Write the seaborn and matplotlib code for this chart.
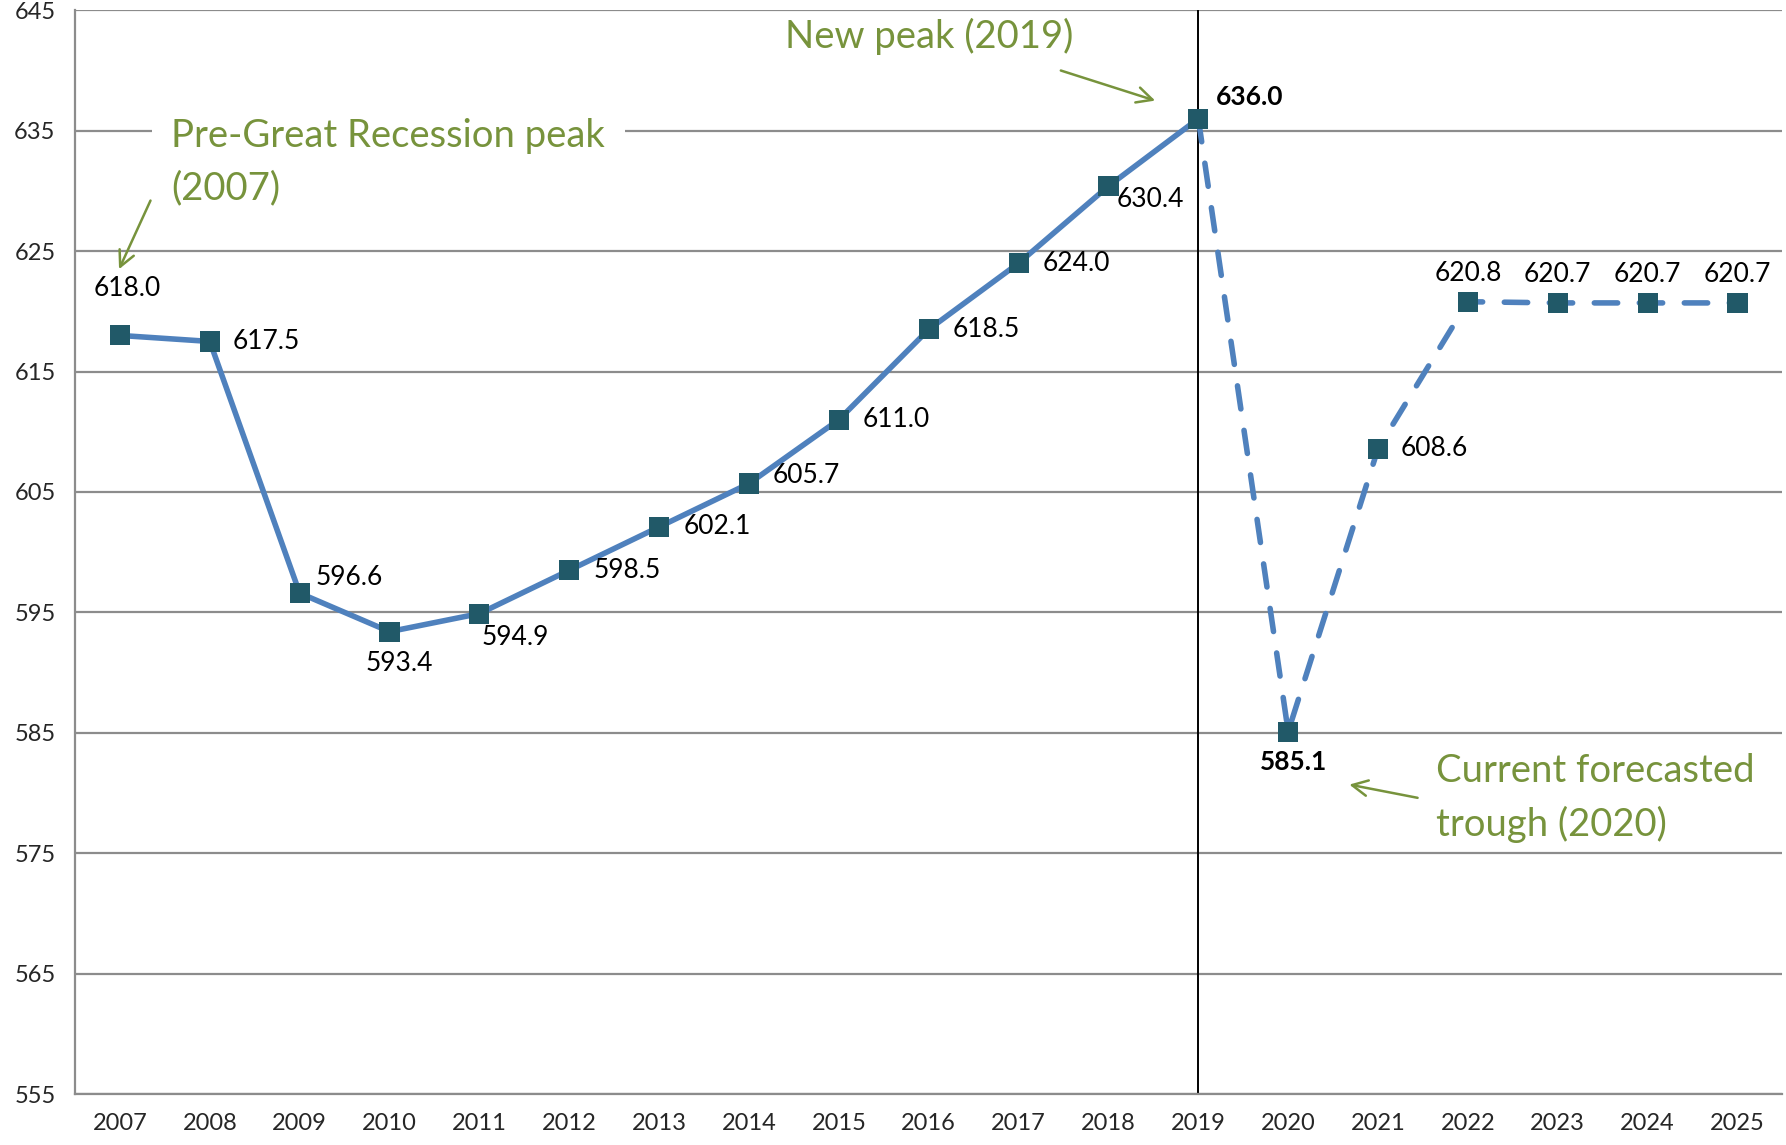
import numpy as np
import pandas as pd
import matplotlib
matplotlib.use('Agg')
import matplotlib.pyplot as plt
import seaborn as sns

# chart data
years = list(range(2007, 2026))
values = [618.0, 617.5, 596.6, 593.4, 594.9, 598.5, 602.1, 605.7, 611.0, 618.5,
          624.0, 630.4, 636.0, 585.1, 608.6, 620.8, 620.7, 620.7, 620.7]
labels = [f'{v:.1f}' for v in values]
bold_years = [2019, 2020]
peak_year = 2019
y_ticks = list(range(555, 646, 10))

df = pd.DataFrame({'year': years, 'value': values})
actual = df[df['year'] <= peak_year]
forecast = df[df['year'] >= peak_year]

sns.set_style('white')
plt.rcParams['font.family'] = ['Lato', 'DejaVu Sans']

line_col = '#4F81BD'
marker_col = '#215968'
note_col = '#77933C'
grid_col = '#8C8C8C'

fig = plt.figure(figsize=(17.86, 11.45), dpi=100)
ax = fig.add_axes([0.042, 0.0445, 0.956, 0.9465])

# actual series (solid) and forecast (dashed)
sns.lineplot(data=actual, x='year', y='value', color=line_col, linewidth=4,
             solid_capstyle='round', ax=ax, zorder=3)
sns.lineplot(data=forecast, x='year', y='value', color=line_col, linewidth=4,
             linestyle=(0, (4.2, 3.9)), dash_capstyle='round', ax=ax, zorder=3)
sns.scatterplot(data=df, x='year', y='value', marker='s', s=210, color=marker_col,
                edgecolor='none', ax=ax, zorder=5)

# data labels: (dx, dy) in pixels, alignment
label_pos = {
    2007: (7, 47, 'center'), 2008: (23, 0, 'left'), 2009: (16, 16, 'left'),
    2010: (10, -32, 'center'), 2011: (2, -24, 'left'), 2012: (24, 0, 'left'),
    2013: (24, 0, 'left'), 2014: (24, 8, 'left'), 2015: (24, 0, 'left'),
    2016: (24, 0, 'left'), 2017: (24, 0, 'left'), 2018: (8, -13, 'left'),
    2019: (18, 22, 'left'), 2020: (5, -30, 'center'), 2021: (23, 0, 'left'),
    2022: (0, 28, 'center'), 2023: (0, 28, 'center'), 2024: (0, 28, 'center'),
    2025: (0, 28, 'center'),
}
for yr, v, lab in zip(years, values, labels):
    dx, dy, ha = label_pos[yr]
    ax.annotate(lab, (yr, v), xytext=(dx, dy), textcoords='offset pixels',
                ha=ha, va='center', fontsize=19, color='black',
                fontweight='bold' if yr in bold_years else 'normal', zorder=6)

# vertical divider at the peak year
ax.axvline(peak_year, color='black', linewidth=1.4, zorder=2)

# annotations
arrow = dict(arrowstyle='->', color=note_col, lw=1.8, mutation_scale=28,
             shrinkA=0, shrinkB=0)
ax.text(2014.40, 642.8, 'New peak (2019)', ha='left', va='center',
        fontsize=27.5, color=note_col, zorder=7)
ax.annotate('', xy=(2018.52, 637.5), xytext=(2017.47, 640.0), arrowprops=arrow)
ax.text(2007.57, 632.37, 'Pre-Great Recession peak\n(2007)', ha='left', va='center',
        fontsize=27.5, color=note_col, linespacing=1.55, zorder=7,
        bbox=dict(facecolor='white', edgecolor='none', pad=14))
ax.annotate('', xy=(2006.99, 623.5), xytext=(2007.34, 629.2), arrowprops=arrow, zorder=7)
ax.text(2021.65, 579.6, 'Current forecasted\ntrough (2020)', ha='left', va='center',
        fontsize=27.5, color=note_col, linespacing=1.55, zorder=7)
ax.annotate('', xy=(2020.68, 580.7), xytext=(2021.44, 579.6), arrowprops=arrow, zorder=7)

# axes styling
ax.set_xlim(2006.5, 2025.5)
ax.set_ylim(555, 645)
ax.set_yticks(y_ticks)
ax.set_xticks(years)
ax.set_xticklabels([str(y) for y in years])
ax.set_xticks(np.arange(2006.5, 2025.6, 1), minor=True)
ax.tick_params(axis='x', which='major', length=0, labelsize=17, pad=14)
ax.tick_params(axis='x', which='minor', length=7, width=1.6, color=grid_col, direction='out')
ax.tick_params(axis='y', which='major', length=8, width=1.6, color=grid_col,
               direction='out', labelsize=17, pad=6)
ax.yaxis.grid(True, color=grid_col, linewidth=1.6)
ax.set_axisbelow(True)
for side in ['top', 'right']:
    ax.spines[side].set_visible(False)
for side in ['left', 'bottom']:
    ax.spines[side].set_color(grid_col)
    ax.spines[side].set_linewidth(1.6)
ax.set_xlabel('')
ax.set_ylabel('')

fig.savefig('out.png', dpi=100)
